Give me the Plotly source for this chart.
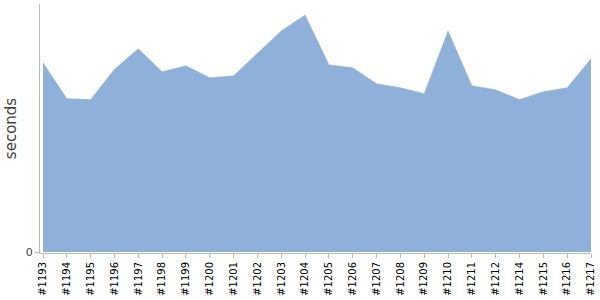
import plotly.graph_objects as go

builds = ["#1193", "#1194", "#1195", "#1196", "#1197", "#1198", "#1199", "#1200",
          "#1201", "#1202", "#1203", "#1204", "#1205", "#1206", "#1207", "#1208",
          "#1209", "#1210", "#1211", "#1212", "#1214", "#1215", "#1216", "#1217"]
seconds = [190, 154, 153, 183.5, 204, 181, 187, 175,
           177, 199, 222, 238, 188, 185, 169, 165,
           159, 222, 167, 163, 153, 161, 165, 194]

fill_color = "#8FB1D9"

fig = go.Figure()
fig.add_trace(go.Scatter(
    x=builds, y=seconds, mode="lines", fill="tozeroy",
    line=dict(color=fill_color, width=0.5), fillcolor=fill_color,
    hoverinfo="x+y", showlegend=False,
))

fig.update_layout(
    width=600, height=300,
    margin=dict(l=40, r=9, t=4, b=47),
    paper_bgcolor="white", plot_bgcolor="white",
    font=dict(family="DejaVu Sans", color="#000"),
    xaxis=dict(
        type="category", range=[-0.126, len(builds) - 1],
        tickangle=-90, tickfont=dict(size=10, color="#000"),
        showgrid=False, zeroline=False,
        showline=True, linecolor="#bbb", linewidth=1,
        ticks="outside", ticklen=4, tickcolor="#bbb",
    ),
    yaxis=dict(
        range=[-1, 249], tickvals=[0], ticktext=["0"],
        tickfont=dict(size=11, color="#444"),
        showgrid=False, zeroline=False,
        showline=True, linecolor="#bbb", linewidth=1,
        ticks="outside", ticklen=4, tickcolor="#bbb",
        title=dict(text="seconds", font=dict(size=15, color="#444"), standoff=5),
    ),
)

fig.write_html("out.html")
